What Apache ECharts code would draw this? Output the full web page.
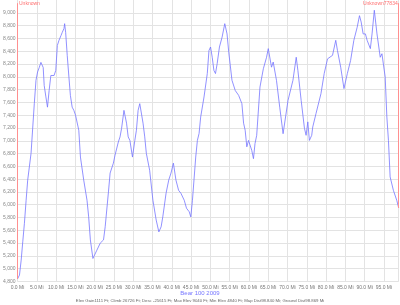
<!DOCTYPE html>
<html>
<head>
<meta charset="utf-8">
<script src="https://cdn.jsdelivr.net/npm/echarts@6/dist/echarts.min.js"></script>
<style>
html,body{margin:0;padding:0;background:#fff;}
#chart{width:400px;height:305px;}
</style>
</head>
<body>
<div id="chart"></div>
<script>
// Distance along the course (miles)
const miles = [0,0.51,0.95,1.36,1.79,2.23,2.64,3.51,4.36,4.79,5.20,5.64,6.07,6.66,6.92,7.36,7.77,8.20,8.64,9.48,9.92,10.33,10.76,11.28,11.61,12.05,12.22,12.48,12.89,13.33,13.71,14.17,14.61,15.04,15.89,16.32,17.17,18.02,18.45,18.89,19.55,19.99,20.58,21.45,22.30,22.73,23.58,24.01,24.86,25.29,26.14,26.58,26.99,27.60,28.27,28.70,29.14,29.81,30.42,30.83,31.27,31.70,32.55,32.99,33.40,34.26,35.11,35.96,36.65,37.24,37.67,38.52,39.21,39.80,40.42,41.08,41.77,42.36,43.23,43.82,44.52,44.93,45.36,46.21,46.64,47.08,47.49,48.36,49.21,49.64,50.05,50.49,50.92,51.33,51.77,52.36,53.05,53.74,54.33,54.77,55.18,55.61,56.46,57.33,58.18,58.62,59.03,59.46,59.90,60.74,61.18,61.58,62.02,62.87,63.74,64.58,65.02,65.86,66.30,66.71,67.15,67.99,68.86,69.12,69.27,70.14,71.42,72.27,72.70,73.55,74.40,74.83,75.27,75.68,76.29,76.55,77.40,78.68,79.52,80.39,81.68,82.52,82.96,83.80,84.65,85.52,86.37,87.21,88.08,88.67,89.11,89.62,90.21,90.65,91.49,91.93,92.52,93.21,94.05,94.49,95.34,95.77,96.18,96.62,97.46,98.33,98.84];
// Elevation (feet)
const elevation = [4840,4900,5135,5420,5710,6070,6385,6805,7585,7945,8075,8145,8225,8145,7865,7685,7525,7785,8020,8020,8100,8490,8570,8645,8695,8755,8830,8695,8335,7995,7710,7525,7475,7400,7165,6745,6385,6070,5810,5450,5160,5215,5290,5400,5450,5655,6200,6495,6650,6775,6980,7060,7195,7475,7275,7060,7005,6745,7005,7165,7475,7580,7275,7060,6805,6540,6070,5760,5575,5655,5810,6180,6385,6495,6650,6385,6225,6180,6070,5945,5890,5810,6070,6745,7005,7115,7370,7685,8050,8410,8465,8305,8100,8050,8205,8465,8620,8830,8670,8385,8360,7945,7785,7710,7580,7275,7165,6905,7005,6850,6720,6955,7085,7840,8125,8305,8440,8150,8230,8255,7945,7525,7110,7085,7110,7630,7945,8305,8100,7630,7195,7085,7295,7005,7085,7215,7425,7735,8050,8280,8335,8570,8410,8150,7815,8050,8255,8570,8775,8955,8855,8670,8670,8570,8440,8670,9040,8670,8305,8360,7995,7370,7005,6435,6225,6070,5950];
// Waypoint names
const waypointNames = ['Unknown', 'Unknown77834'];
const chartTitle = 'Bear 100 2009';
const statsText = 'Elev Gain1111 Ft; Climb 26726 Ft; Desc -25615 Ft; Max Elev 9040 Ft; Min Elev 4840 Ft; Map Dist98.840 Mi; Ground Dist98.869 Mi';
const yMin = 4800, yMax = 9200, yStep = 200;
const xMax = 98.84, xStep = 5;
const markerTop = 9150;

const chart = echarts.init(document.getElementById('chart'), null, {renderer: 'canvas'});
const data = miles.map((m, i) => [m, elevation[i]]);
const n = miles.length - 1;
const font = 'Arial, "Liberation Sans", sans-serif';

chart.setOption({
  animation: false,
  backgroundColor: '#ffffff',
  grid: {left: 13, right: 1.3, top: 0, bottom: 23.5},
  xAxis: {
    type: 'value', min: 0, max: xMax, interval: xStep,
    axisLine: {show: false}, axisTick: {show: false},
    axisLabel: {
      fontSize: 5, color: '#777', margin: 4, fontFamily: font,
      showMaxLabel: false,
      formatter: v => v.toFixed(1) + ' Mi'
    },
    splitLine: {show: true, lineStyle: {color: '#e3e3e3', width: 1}}
  },
  yAxis: {
    type: 'value', min: yMin, max: yMax, interval: yStep,
    axisLine: {show: false}, axisTick: {show: false},
    axisLabel: {
      fontSize: 5, color: '#888', margin: 2, fontFamily: font,
      showMaxLabel: false,
      formatter: v => v.toLocaleString('en-US')
    },
    splitLine: {show: true, showMaxLine: false, lineStyle: {color: '#e3e3e3', width: 1}}
  },
  series: [{
    type: 'line',
    data: data,
    showSymbol: false,
    symbol: 'none',
    lineStyle: {color: '#7575ff', width: 0.8},
    z: 3,
    markLine: {
      silent: true,
      symbol: 'none',
      label: {show: false},
      lineStyle: {color: '#ff9090', width: 1, type: 'solid'},
      data: [
        [{coord: [miles[0], elevation[0]]}, {coord: [miles[0], markerTop]}],
        [{coord: [miles[n], elevation[n]]}, {coord: [miles[n], markerTop]}]
      ]
    },
    markPoint: {
      silent: true,
      symbol: 'rect',
      symbolSize: 0,
      data: [
        {coord: [miles[0], markerTop], name: waypointNames[0],
         label: {position: 'right', distance: 1.5}},
        {coord: [miles[n], markerTop], name: waypointNames[1],
         label: {position: 'left', distance: 1}}
      ],
      label: {show: true, formatter: '{b}', fontSize: 5, color: '#ff7070', fontFamily: font}
    }
  }],
  graphic: [
    {type: 'text', left: 'center', top: 290, style: {text: chartTitle, fill: '#7777ff', font: '6px ' + font}},
    {type: 'text', left: 'center', top: 298.5, style: {text: statsText, fill: '#666', font: '4.3px ' + font}}
  ]
});
</script>
</body>
</html>
